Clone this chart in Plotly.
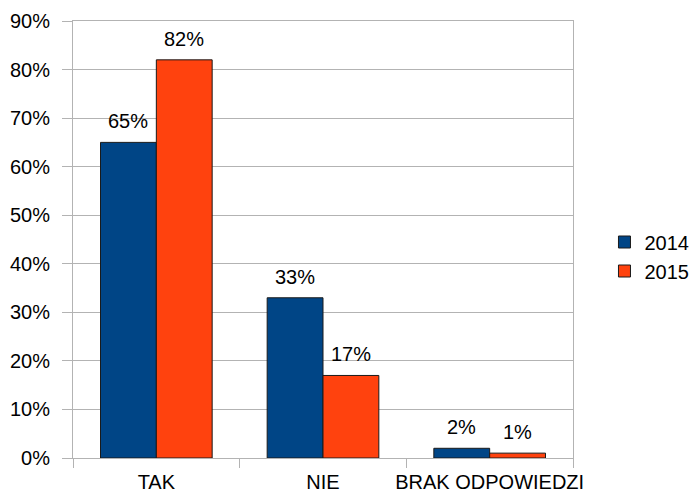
import plotly.graph_objects as go

categories = ["TAK", "NIE", "BRAK ODPOWIEDZI"]
years = ["2014", "2015"]
values_2014 = [65, 33, 2]
values_2015 = [82, 17, 1]
colors = ["#004586", "#ff420e"]
y_ticks = [0, 10, 20, 30, 40, 50, 60, 70, 80, 90]

grid = "#b3b3b3"
font = dict(family="Liberation Sans, Arial, sans-serif", size=20, color="#000000")

fig = go.Figure()
series = list(zip(years, [values_2014, values_2015], colors))
for name, vals, col in series:
    fig.add_trace(go.Bar(
        name=name,
        x=categories,
        y=vals,
        marker=dict(color=col, line=dict(color="#1a1a1a", width=1)),
    ))

# value labels above each bar, offset to the bar's half of the group
bar_px = 56
for i, (name, vals, col) in enumerate(series):
    shift = (-0.5 if i == 0 else 0.5) * bar_px
    for cat, v in zip(categories, vals):
        fig.add_annotation(
            x=cat, y=v, text=f"{v}%", showarrow=False,
            xshift=shift, yshift=8, yanchor="bottom", font=font,
        )

fig.update_layout(
    width=694, height=500,
    margin=dict(l=73, r=121, t=21, b=42),
    paper_bgcolor="white", plot_bgcolor="white",
    font=font,
    barmode="group",
    bargap=0.33, bargroupgap=0,
    showlegend=True,
    legend=dict(xref="container", yref="container",
                x=0.871, xanchor="left", y=0.487, yanchor="middle",
                font=font, bgcolor="rgba(0,0,0,0)"),
    xaxis=dict(
        showgrid=False, showline=True, linecolor=grid, linewidth=1, mirror=True,
        ticks="outside", tickson="boundaries", ticklen=9, tickcolor=grid,
        ticklabelstandoff=6, tickfont=font, tickangle=0, automargin=False,
    ),
    yaxis=dict(
        range=[0, 90], tickvals=y_ticks, ticktext=[f"{t}%" for t in y_ticks],
        showgrid=True, gridcolor=grid, gridwidth=1,
        showline=True, linecolor=grid, linewidth=1, mirror=True,
        ticks="outside", ticklen=10, tickcolor=grid,
        ticklabelstandoff=8, tickfont=font, zeroline=False, automargin=False,
    ),
)

fig.write_html("out.html")
